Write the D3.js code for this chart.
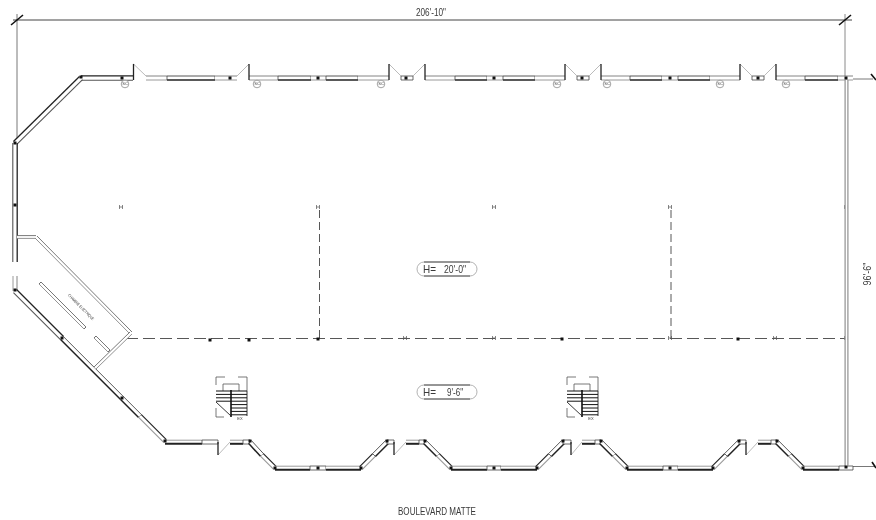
<!DOCTYPE html>
<html>
<head>
<meta charset="utf-8">
<script src="https://cdn.jsdelivr.net/npm/d3@7"></script>
<style>
  html, body { margin: 0; background: #fff; }
  svg { filter: blur(0.3px); }
  text { font-family: "Liberation Sans", Arial, sans-serif; fill: #3a3a3a; }
</style>
</head>
<body>
<svg id="plan"></svg>
<script>
// PLAN DATA, in drawing units
const planExtentX = [0, 876];
const planExtentY = [0, 520];

const wallSegments = [
  // [x1, y1, x2, y2, kind]
  [81, 78, 133, 78, 'glazed'],
  [146, 78, 167, 78, 'plain'], [167, 78, 215, 78, 'window'], [215, 78, 237, 78, 'plain'],
  [249, 78, 278, 78, 'plain'], [278, 78, 311, 78, 'window'], [311, 78, 326, 78, 'plain'], [326, 78, 358, 78, 'window'], [358, 78, 389, 78, 'plain'],
  [401, 78, 413, 78, 'box'],
  [425, 78, 455, 78, 'plain'], [455, 78, 487, 78, 'window'], [487, 78, 503, 78, 'plain'], [503, 78, 535, 78, 'window'], [535, 78, 565, 78, 'plain'],
  [577, 78, 589, 78, 'box'],
  [601, 78, 630, 78, 'plain'], [630, 78, 662, 78, 'window'], [662, 78, 678, 78, 'plain'], [678, 78, 710, 78, 'window'], [710, 78, 740, 78, 'plain'],
  [752, 78, 764, 78, 'box'],
  [776, 78, 805, 78, 'plain'], [805, 78, 838, 78, 'window'], [838, 78, 853, 78, 'plain'],
  // upper left facade
  [81, 78, 15, 143, 'glazed'],
  [15, 143, 15, 262, 'glazed'],
  [15, 276, 15, 291, 'plain'],
  // lower left facade
  [15, 291, 62, 338, 'glazed'], [62, 338, 122, 398, 'window'], [122, 398, 140, 416, 'window'], [140, 416, 165, 441, 'sloped'],
  // bottom facade, sawtooth
  [165, 442, 202, 442, 'solid'], [202, 442, 218, 442, 'box'],
  [230, 442, 243, 442, 'solid'], [243, 442, 250, 442, 'box'],
  [250, 442, 262, 455, 'window'], [262, 455, 275, 468, 'sloped'],
  [275, 468, 310, 468, 'solid'], [310, 468, 326, 468, 'box'], [326, 468, 361, 468, 'solid'],
  [361, 468, 374, 455, 'sloped'], [374, 455, 387, 442, 'window'], [387, 442, 394, 442, 'box'],
  [406, 442, 419, 442, 'solid'], [419, 442, 425, 442, 'box'],
  [425, 442, 438, 455, 'window'], [438, 455, 451, 468, 'sloped'],
  [451, 468, 487, 468, 'solid'], [487, 468, 501, 468, 'box'], [501, 468, 537, 468, 'solid'],
  [537, 468, 550, 455, 'sloped'], [550, 455, 563, 442, 'window'], [563, 442, 571, 442, 'box'],
  [582, 442, 595, 442, 'solid'], [595, 442, 601, 442, 'box'],
  [601, 442, 614, 455, 'window'], [614, 455, 627, 468, 'sloped'],
  [627, 468, 663, 468, 'solid'], [663, 468, 678, 468, 'box'], [678, 468, 713, 468, 'solid'],
  [713, 468, 726, 455, 'sloped'], [726, 455, 739, 442, 'window'], [739, 442, 746, 442, 'box'],
  [758, 442, 771, 442, 'solid'], [771, 442, 777, 442, 'box'],
  [777, 442, 790, 455, 'window'], [790, 455, 803, 468, 'sloped'],
  [803, 468, 839, 468, 'solid'], [839, 468, 853, 468, 'box'],
  // right side
  [846.5, 80, 846.5, 466, 'grey'],
  // electrical room
  [17, 237, 36, 237, 'thin'], [36, 237, 131, 333, 'thin'], [131, 333, 95, 368, 'thin'],
  [95, 337, 109, 351, 'counter'], [40, 283, 85, 328, 'counter']
];

const doorJambs = [
  [133.5, 64, 80], [249, 64, 80], [389, 64, 80], [425, 64, 80], [565, 64, 80], [601, 64, 80], [740, 64, 80], [776, 64, 80],
  [218, 442, 455], [394, 442, 455], [571, 442, 455], [746, 442, 455]
];

const doorSwings = [
  [133.5, 64, 146, 76], [237, 76, 249, 64], [389, 64, 401, 76], [413, 76, 425, 64],
  [565, 64, 577, 76], [589, 76, 601, 64], [740, 64, 752, 76], [764, 76, 776, 64],
  [218, 455, 230, 442], [394, 455, 406, 442], [571, 455, 582, 442], [746, 455, 758, 442]
];

const columnDots = [
  [122, 78], [230, 78], [318, 78], [406, 78], [494, 78], [582, 78], [670, 78], [758, 78], [846, 78],
  [81, 77], [15, 143], [15, 205], [15, 290], [62, 338], [122, 398], [165, 441],
  [210, 340], [249, 340], [318, 339], [562, 339], [738, 339],
  [250, 441], [275, 468], [318, 468], [361, 468], [387, 441], [425, 441], [451, 468], [494, 468],
  [537, 468], [563, 441], [601, 441], [627, 468], [670, 468], [713, 468], [739, 441], [777, 441], [803, 468], [846, 467]
];

const sprinklerTags = [
  [125, 84], [257, 84], [381, 84], [557, 84], [607, 84], [720, 84], [786, 84]
];

const gridMarks = [
  [121, 207], [318, 207], [494, 207], [670, 207], [846, 207],
  [405, 338], [494, 338], [670, 338], [775, 338], [846, 338]
];

const dashedLines = [
  [126, 338.5, 846, 338.5],
  [319.5, 210, 319.5, 338],
  [671, 210, 671, 338]
];

const heightLabels = [
  { lead: 'H=', value: "20'-0\"", x: 417, x2: 477, y: 262, y2: 276, valueX: 444, valueW: 22 },
  { lead: 'H=', value: "9'-6\"", x: 417, x2: 477, y: 385, y2: 399, valueX: 447, valueW: 16 }
];

const stairOrigins = [[216, 377], [567, 377]];
const stairTreadsRight = [0, 3.4, 6.8, 10.2, 13.6, 17, 20.4, 23.8];
const stairTreadsLeft = [0, 3.4, 6.8, 10.2];

const dimensionTop = { label: "206'-10\"", x1: 17, x2: 846, y: 20 };
const dimensionRight = { label: "96'-6\"", x: 867, y: 274 };
const titleText = 'BOULEVARD MATTE';
const roomLabel = 'CHAMBRE ELECTRIQUE';

// SETUP
const width = 876;
const height = 520;
const svg = d3.select('#plan').attr('width', width).attr('height', height).style('display', 'block');
const x = d3.scaleLinear().domain(planExtentX).range([0, width]);
const y = d3.scaleLinear().domain(planExtentY).range([0, height]);

const DARK = '#222';
const GREY = '#9a9a9a';

function line(g, x1, y1, x2, y2, stroke, w) {
  return g.append('line')
    .attr('x1', x(x1)).attr('y1', y(y1)).attr('x2', x(x2)).attr('y2', y(y2))
    .attr('stroke', stroke).attr('stroke-width', w);
}

// The drawing uses a condensed face, so every label is squeezed to its measured width
function squeezed(sel, w) {
  return sel.attr('textLength', w).attr('lengthAdjust', 'spacingAndGlyphs');
}

// DIMENSIONS
const dims = svg.append('g');
line(dims, dimensionTop.x1 - 4, dimensionTop.y, dimensionTop.x2 + 6, dimensionTop.y, '#444', 1);
line(dims, dimensionTop.x1, 14, dimensionTop.x1, 143, '#555', 0.8);
line(dims, dimensionTop.x2 - 1, 14, dimensionTop.x2 - 1, 80, '#8a8a8a', 1);
[dimensionTop.x1, dimensionTop.x2 - 1].forEach((tx) => {
  line(dims, tx - 6, dimensionTop.y + 5, tx + 6, dimensionTop.y - 5, '#111', 1.6);
});
line(dims, 853, 79, 873, 79, '#555', 0.8);
line(dims, 853, 466.5, 875, 466.5, '#555', 0.8);
line(dims, 871, 74, 876, 80, '#111', 1.6);
line(dims, 872, 462, 876, 468, '#111', 1.6);

squeezed(dims.append('text')
  .attr('x', x(431)).attr('y', y(16)).attr('text-anchor', 'middle')
  .attr('font-size', 10).text(dimensionTop.label), 30);
squeezed(dims.append('text')
  .attr('transform', `translate(${x(dimensionRight.x)},${y(dimensionRight.y)}) rotate(-90)`)
  .attr('text-anchor', 'middle').attr('dy', '0.35em')
  .attr('font-size', 10).text(dimensionRight.label), 23);

// GRID AND CEILING LINES
const gridLayer = svg.append('g');
dashedLines.forEach(([x1, y1, x2, y2]) => {
  line(gridLayer, x1, y1, x2, y2, '#444', 0.9).attr('stroke-dasharray', y1 === y2 ? '12,5' : '8,4');
});
gridMarks.forEach(([mx, my]) => {
  line(gridLayer, mx - 1.5, my - 2, mx - 1.5, my + 2, '#555', 0.7);
  line(gridLayer, mx + 1.5, my - 2, mx + 1.5, my + 2, '#555', 0.7);
  line(gridLayer, mx - 1.5, my, mx + 1.5, my, '#555', 0.7);
});

// WALLS
// kind -> half thickness and stroke of each face
const wallStyles = {
  plain: { half: 2, a: ['#666', 0.8], b: [GREY, 1] },
  box: { half: 2, a: ['#444', 0.8], b: ['#444', 0.8], ends: true },
  window: { half: 2, a: ['#444', 0.9], b: [DARK, 1.5], ends: true },
  solid: { half: 1.8, a: [GREY, 1], b: [DARK, 2] },
  sloped: { half: 1.9, a: [DARK, 1.2], b: [GREY, 1.2] },
  glazed: { half: 2.2, a: [DARK, 1.3], b: ['#555', 1.1] },
  grey: { half: 1.4, a: ['#999', 1.3], b: ['#999', 1.3] },
  thin: { half: 1.4, a: ['#555', 0.8], b: ['#777', 0.8] },
  counter: { half: 1.4, a: ['#555', 0.8], b: ['#777', 0.8], ends: true }
};

const wallLayer = svg.append('g');
wallSegments.forEach(([x1, y1, x2, y2, kind]) => {
  const st = wallStyles[kind];
  const len = Math.hypot(x2 - x1, y2 - y1);
  // right hand normal keeps the heavy face on the same side along the run
  const flip = x2 < x1 ? -1 : 1;
  const nx = (-(y2 - y1) / len) * st.half * flip;
  const ny = ((x2 - x1) / len) * st.half * flip;
  wallLayer.append('polygon')
    .attr('points', [
      [x1 - nx, y1 - ny], [x2 - nx, y2 - ny], [x2 + nx, y2 + ny], [x1 + nx, y1 + ny]
    ].map((p) => `${x(p[0])},${y(p[1])}`).join(' '))
    .attr('fill', '#fff');
  line(wallLayer, x1 - nx, y1 - ny, x2 - nx, y2 - ny, st.a[0], st.a[1]);
  line(wallLayer, x1 + nx, y1 + ny, x2 + nx, y2 + ny, st.b[0], st.b[1]);
  if (st.ends) {
    line(wallLayer, x1 - nx, y1 - ny, x1 + nx, y1 + ny, '#444', 0.8);
    line(wallLayer, x2 - nx, y2 - ny, x2 + nx, y2 + ny, '#444', 0.8);
  }
});

// DOORS
const doorLayer = svg.append('g');
doorSwings.forEach(([x1, y1, x2, y2]) => line(doorLayer, x1, y1, x2, y2, '#aaa', 0.8));
doorJambs.forEach(([jx, y1, y2]) => line(doorLayer, jx, y1, jx, y2, '#222', 1.3));

// COLUMNS
svg.append('g').selectAll('rect')
  .data(columnDots)
  .join('rect')
  .attr('x', (d) => x(d[0]) - 1.5)
  .attr('y', (d) => y(d[1]) - 1.5)
  .attr('width', 3)
  .attr('height', 3)
  .attr('fill', '#111');

// SPRINKLER TAGS
const tags = svg.append('g').selectAll('g').data(sprinklerTags).join('g')
  .attr('transform', (d) => `translate(${x(d[0])},${y(d[1])})`);
tags.append('circle').attr('r', 3.8).attr('fill', '#fff').attr('stroke', '#999').attr('stroke-width', 0.9);
tags.append('text').attr('text-anchor', 'middle').attr('dy', '0.35em').attr('font-size', 4).text('SC');

// STAIRS
stairOrigins.forEach(([ox, oy]) => {
  const g = svg.append('g');
  const c = '#555';
  // dashed enclosure
  line(g, ox, oy, ox + 9, oy, c, 0.8);
  line(g, ox + 22, oy, ox + 31, oy, c, 0.8);
  line(g, ox, oy, ox, oy + 8, c, 0.8);
  line(g, ox + 31, oy, ox + 31, oy + 14, c, 0.8);
  line(g, ox, oy + 31, ox, oy + 40, c, 0.8);
  line(g, ox, oy + 40, ox + 8, oy + 40, c, 0.8);
  // landing
  line(g, ox + 7, oy + 7, ox + 23, oy + 7, c, 0.8);
  line(g, ox + 7, oy + 7, ox + 7, oy + 14, c, 0.8);
  line(g, ox + 23, oy + 7, ox + 23, oy + 14, c, 0.8);
  // treads
  stairTreadsRight.forEach((t) => line(g, ox + 15, oy + 14 + t, ox + 31, oy + 14 + t, '#111', 1));
  stairTreadsLeft.forEach((t) => line(g, ox, oy + 14 + t, ox + 15, oy + 14 + t, '#111', 1));
  line(g, ox + 31, oy + 14, ox + 31, oy + 39, '#222', 0.9);
  line(g, ox + 15, oy + 13, ox + 15, oy + 40, '#111', 1.6);
  line(g, ox, oy + 25, ox + 15, oy + 39, '#222', 0.9);
  g.append('text').attr('x', x(ox + 24)).attr('y', y(oy + 43)).attr('text-anchor', 'middle')
    .attr('font-size', 4).text('EX');
});

// HEIGHT LABELS
heightLabels.forEach((d) => {
  const g = svg.append('g');
  const h = d.y2 - d.y;
  g.append('rect')
    .attr('x', x(d.x)).attr('y', y(d.y))
    .attr('width', x(d.x2) - x(d.x)).attr('height', y(d.y2) - y(d.y))
    .attr('rx', h / 2).attr('ry', h / 2)
    .attr('fill', '#fff').attr('stroke', '#aaa').attr('stroke-width', 0.9);
  line(g, d.x + 7, d.y, d.x2 - 7, d.y, '#444', 0.9);
  line(g, d.x + 7, d.y2, d.x2 - 7, d.y2, '#444', 0.9);
  squeezed(g.append('text').attr('x', x(d.x + 6)).attr('y', y(d.y2 - 3)).attr('font-size', 11).text(d.lead), 13);
  squeezed(g.append('text').attr('x', x(d.valueX)).attr('y', y(d.y2 - 3)).attr('font-size', 11).text(d.value), d.valueW);
});

// ROOM LABEL AND TITLE
squeezed(svg.append('text')
  .attr('transform', `translate(${x(81)},${y(307)}) rotate(45)`)
  .attr('text-anchor', 'middle').attr('dy', '0.35em')
  .attr('font-size', 4).text(roomLabel), 35);

squeezed(svg.append('text')
  .attr('x', x(437)).attr('y', y(515)).attr('text-anchor', 'middle')
  .attr('font-size', 10.5).text(titleText), 78);
</script>
</body>
</html>
